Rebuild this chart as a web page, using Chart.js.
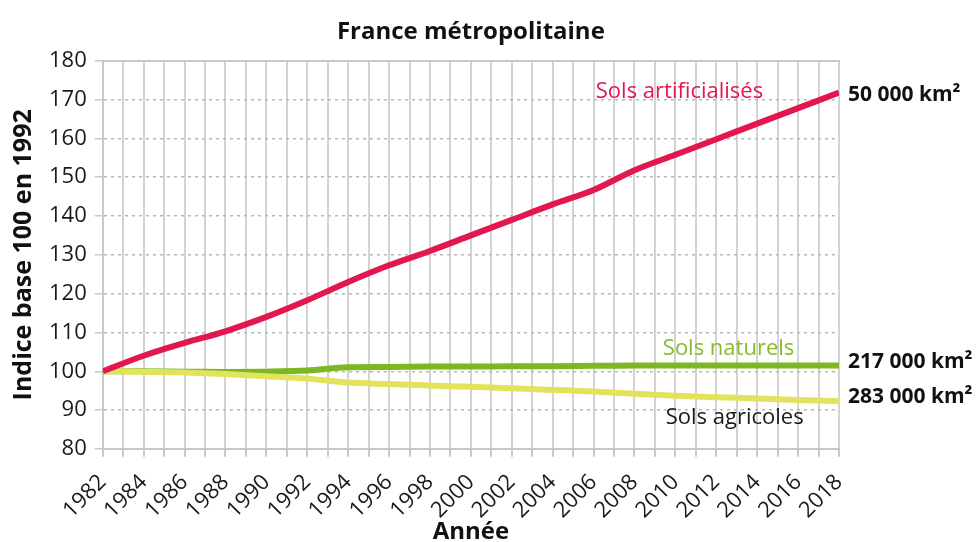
<!DOCTYPE html>
<html lang="fr">
<head>
<meta charset="utf-8">
<title>France métropolitaine</title>
<script src="https://cdn.jsdelivr.net/npm/chart.js@4.4.1/dist/chart.umd.min.js"></script>
<style>
    html, body { margin: 0; padding: 0; background: #fff; }
    #wrap { width: 976px; height: 542px; }
</style>
</head>
<body>
<div id="wrap"><canvas id="soilChart" width="976" height="542"></canvas></div>
<script>
// Indice base 100
const years = [1982, 1984, 1986, 1988, 1990, 1992, 1994, 1996, 1998, 2000,
               2002, 2004, 2006, 2008, 2010, 2012, 2014, 2016, 2018];
const artificialises = [100, 104, 107.3, 110.3, 114, 118.3, 123, 127.3, 131, 135,
                        139, 143, 146.7, 151.8, 155.8, 159.8, 163.8, 167.8, 171.8];
const naturels = [100, 100, 99.9, 99.8, 99.9, 100.2, 101, 101.1, 101.2, 101.2,
                  101.3, 101.3, 101.4, 101.5, 101.5, 101.5, 101.5, 101.5, 101.5];
const agricoles = [100, 99.9, 99.7, 99.3, 98.7, 98.1, 97.1, 96.7, 96.3, 96,
                   95.6, 95.2, 94.8, 94.2, 93.7, 93.3, 93, 92.6, 92.3];

const yTicks = [80, 90, 100, 110, 120, 130, 140, 150, 160, 170, 180];

// series labels inside the plot: [text, year, value, colour]
const seriesLabels = [
    ['Sols artificialisés', 2010.2, 172.0, '#e3174f'],
    ['Sols naturels', 2012.6, 105.9, '#86bb2a'],
    ['Sols agricoles', 2012.9, 88.0, '#1a1a1a']
];
// surfaces at the right end: [text, value]
const surfaceLabels = [
    ['50 000 km²', 171.3],
    ['217 000 km²', 102.3],
    ['283 000 km²', 93.3]
];

const FONT = "'Open Sans', 'DejaVu Sans', sans-serif";

function toPoints(values) {
    return values.map((v, i) => ({ x: years[i], y: v }));
}

const labelsPlugin = {
    id: 'labels',
    afterDatasetsDraw(chart) {
        const { ctx, scales, chartArea } = chart;
        const xs = scales.x, ys = scales.y;
        ctx.save();
        ctx.textBaseline = 'middle';
        ctx.font = '22px ' + FONT;
        ctx.textAlign = 'center';
        seriesLabels.forEach(([text, yr, val, color]) => {
            ctx.fillStyle = color;
            ctx.fillText(text, xs.getPixelForValue(yr), ys.getPixelForValue(val));
        });
        ctx.font = 'bold 21px ' + FONT;
        ctx.textAlign = 'left';
        ctx.fillStyle = '#111';
        surfaceLabels.forEach(([text, val]) => {
            ctx.fillText(text, chartArea.right + 9, ys.getPixelForValue(val));
        });
        // x axis title, under the rotated year labels
        ctx.font = 'bold 24px ' + FONT;
        ctx.textAlign = 'center';
        ctx.fillText('Année', (chartArea.left + chartArea.right) / 2, chart.height - 10);
        ctx.restore();
    }
};

const ctx = document.getElementById('soilChart').getContext('2d');

new Chart(ctx, {
    type: 'line',
    data: {
        datasets: [
            {
                label: 'Sols artificialisés',
                data: toPoints(artificialises),
                borderColor: '#e3174f',
                order: 1
            },
            {
                label: 'Sols agricoles',
                data: toPoints(agricoles),
                borderColor: '#e1e35b',
                order: 2
            },
            {
                label: 'Sols naturels',
                data: toPoints(naturels),
                borderColor: '#7db722',
                order: 3
            }
        ]
    },
    options: {
        responsive: false,
        animation: false,
        layout: {
            padding: { left: 9, right: 137, top: 4, bottom: 6 }
        },
        elements: {
            line: { borderWidth: 6, cubicInterpolationMode: 'monotone', borderCapStyle: 'butt' },
            point: { radius: 0 }
        },
        plugins: {
            legend: { display: false },
            tooltip: { enabled: false },
            title: {
                display: true,
                fullSize: false,
                text: 'France métropolitaine',
                color: '#111',
                font: { family: FONT, size: 24, weight: 'bold' },
                padding: { top: 14, bottom: 14 }
            }
        },
        scales: {
            x: {
                type: 'linear',
                min: 1982,
                max: 2018,
                ticks: {
                    stepSize: 1,
                    autoSkip: false,
                    minRotation: 45,
                    maxRotation: 45,
                    padding: 14,
                    color: '#1a1a1a',
                    font: { family: FONT, size: 22, lineHeight: 1 },
                    callback: v => (v % 2 === 0 ? String(v) : '')
                },
                grid: {
                    color: '#d3d3d3',
                    lineWidth: 2,
                    tickLength: 8,
                    tickColor: '#c8c8c8'
                },
                border: { color: '#c8c8c8', width: 2 }
            },
            xTop: {
                type: 'linear',
                position: 'top',
                min: 1982,
                max: 2018,
                ticks: { display: false },
                grid: { display: false, drawTicks: false },
                border: { color: '#c8c8c8', width: 2 }
            },
            y: {
                min: 80,
                max: 180,
                afterBuildTicks: axis => {
                    axis.ticks = yTicks.map(v => ({ value: v }));
                },
                ticks: {
                    padding: 8,
                    color: '#1a1a1a',
                    font: { family: FONT, size: 22 }
                },
                grid: {
                    color: '#b8b8b8',
                    lineWidth: 1.5,
                    tickLength: 8,
                    tickColor: '#c8c8c8'
                },
                border: { color: '#c8c8c8', width: 2, dash: [3, 4] },
                title: {
                    display: true,
                    text: 'Indice base 100 en 1992',
                    color: '#111',
                    font: { family: FONT, size: 25, weight: 'bold' },
                    padding: { top: 0, bottom: 2 }
                }
            }
        }
    },
    plugins: [labelsPlugin]
});
</script>
</body>
</html>
